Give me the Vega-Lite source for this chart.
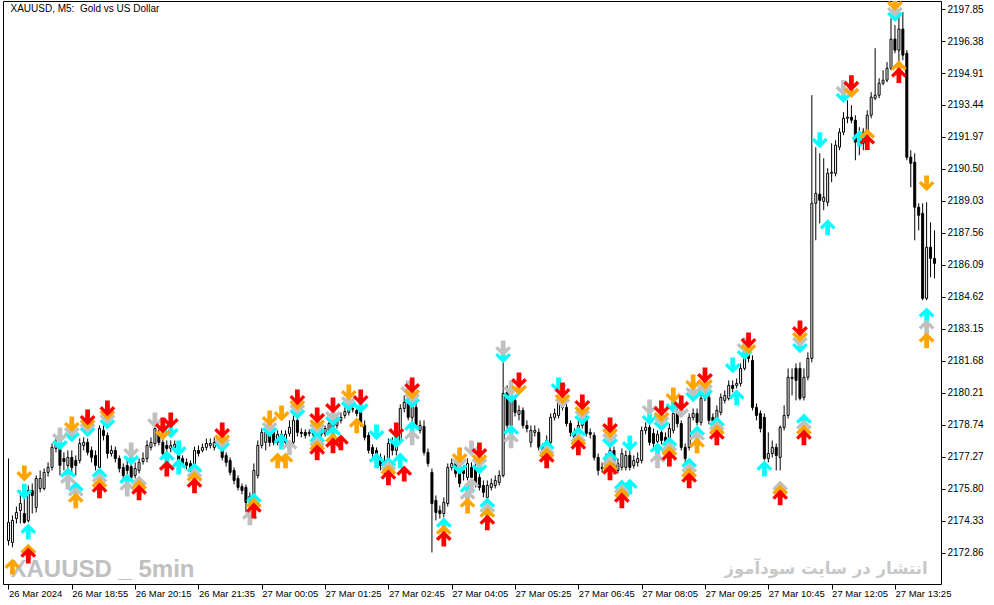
{
  "$schema": "https://vega.github.io/schema/vega-lite/v6.json",
  "width": 938,
  "height": 583,
  "autosize": "none",
  "padding": {"left": 3, "top": 1, "right": 53, "bottom": 21},
  "background": "white",
  "datasets": {
    "bars": [
      {"k":0,"o":2173.42,"h":2177.19,"l":2173.19,"c":2174.25},
      {"k":1,"o":2173.33,"h":2174.57,"l":2173.10,"c":2174.34},
      {"k":2,"o":2174.43,"h":2174.98,"l":2174.20,"c":2174.71},
      {"k":3,"o":2174.80,"h":2175.72,"l":2174.20,"c":2175.12},
      {"k":4,"o":2174.66,"h":2175.35,"l":2174.20,"c":2174.25},
      {"k":5,"o":2174.34,"h":2175.95,"l":2174.25,"c":2175.72},
      {"k":6,"o":2175.72,"h":2176.04,"l":2174.66,"c":2175.49},
      {"k":7,"o":2174.94,"h":2176.41,"l":2174.71,"c":2176.27},
      {"k":8,"o":2175.81,"h":2176.64,"l":2175.63,"c":2176.27},
      {"k":9,"o":2175.81,"h":2176.73,"l":2175.72,"c":2176.55},
      {"k":10,"o":2176.55,"h":2177.01,"l":2176.36,"c":2176.78},
      {"k":11,"o":2176.78,"h":2177.88,"l":2176.64,"c":2177.70},
      {"k":12,"o":2177.65,"h":2178.16,"l":2177.47,"c":2177.88},
      {"k":13,"o":2177.65,"h":2177.79,"l":2176.41,"c":2176.87},
      {"k":14,"o":2177.19,"h":2177.47,"l":2176.64,"c":2177.05},
      {"k":15,"o":2176.87,"h":2177.56,"l":2176.73,"c":2177.24},
      {"k":16,"o":2177.24,"h":2177.56,"l":2176.55,"c":2176.78},
      {"k":17,"o":2177.10,"h":2177.33,"l":2176.41,"c":2176.87},
      {"k":18,"o":2177.10,"h":2178.11,"l":2176.96,"c":2177.88},
      {"k":19,"o":2177.79,"h":2178.16,"l":2177.56,"c":2177.93},
      {"k":20,"o":2177.93,"h":2178.11,"l":2177.33,"c":2177.47},
      {"k":21,"o":2177.56,"h":2177.74,"l":2177.01,"c":2177.24},
      {"k":22,"o":2177.33,"h":2177.56,"l":2176.64,"c":2176.87},
      {"k":23,"o":2176.78,"h":2178.71,"l":2176.64,"c":2178.57},
      {"k":24,"o":2178.48,"h":2178.71,"l":2178.02,"c":2178.25},
      {"k":25,"o":2178.25,"h":2178.39,"l":2177.19,"c":2177.42},
      {"k":26,"o":2177.42,"h":2177.79,"l":2177.28,"c":2177.56},
      {"k":27,"o":2177.56,"h":2177.74,"l":2177.01,"c":2177.19},
      {"k":28,"o":2177.19,"h":2177.33,"l":2176.55,"c":2176.73},
      {"k":29,"o":2176.78,"h":2176.96,"l":2176.27,"c":2176.41},
      {"k":30,"o":2176.87,"h":2177.10,"l":2176.46,"c":2176.64},
      {"k":31,"o":2176.82,"h":2177.01,"l":2176.09,"c":2176.32},
      {"k":32,"o":2176.41,"h":2177.01,"l":2176.27,"c":2176.73},
      {"k":33,"o":2176.64,"h":2177.19,"l":2176.50,"c":2177.01},
      {"k":34,"o":2177.05,"h":2177.47,"l":2176.91,"c":2177.19},
      {"k":35,"o":2177.19,"h":2178.02,"l":2177.01,"c":2177.79},
      {"k":36,"o":2177.70,"h":2178.16,"l":2177.56,"c":2177.93},
      {"k":37,"o":2177.88,"h":2178.85,"l":2177.74,"c":2178.57},
      {"k":38,"o":2178.34,"h":2178.57,"l":2177.79,"c":2177.93},
      {"k":39,"o":2177.93,"h":2178.11,"l":2177.28,"c":2177.42},
      {"k":40,"o":2177.79,"h":2178.02,"l":2177.47,"c":2177.65},
      {"k":41,"o":2177.65,"h":2178.02,"l":2177.47,"c":2177.79},
      {"k":42,"o":2177.70,"h":2178.02,"l":2177.47,"c":2177.84},
      {"k":43,"o":2177.47,"h":2177.65,"l":2176.87,"c":2177.01},
      {"k":44,"o":2177.19,"h":2177.33,"l":2176.78,"c":2176.96},
      {"k":45,"o":2177.01,"h":2177.19,"l":2176.69,"c":2176.87},
      {"k":46,"o":2176.96,"h":2177.10,"l":2176.55,"c":2176.73},
      {"k":47,"o":2176.78,"h":2177.74,"l":2176.64,"c":2177.56},
      {"k":48,"o":2177.56,"h":2177.79,"l":2177.28,"c":2177.42},
      {"k":49,"o":2177.56,"h":2177.88,"l":2177.47,"c":2177.70},
      {"k":50,"o":2177.70,"h":2178.11,"l":2177.56,"c":2177.88},
      {"k":51,"o":2177.79,"h":2178.11,"l":2177.65,"c":2177.88},
      {"k":52,"o":2177.70,"h":2178.16,"l":2177.56,"c":2177.93},
      {"k":53,"o":2177.79,"h":2178.07,"l":2177.65,"c":2177.88},
      {"k":54,"o":2177.88,"h":2178.02,"l":2177.10,"c":2177.24},
      {"k":55,"o":2177.33,"h":2177.47,"l":2176.82,"c":2177.01},
      {"k":56,"o":2177.10,"h":2177.24,"l":2176.41,"c":2176.55},
      {"k":57,"o":2176.64,"h":2176.78,"l":2176.00,"c":2176.18},
      {"k":58,"o":2176.27,"h":2176.41,"l":2175.72,"c":2175.86},
      {"k":59,"o":2175.90,"h":2176.04,"l":2175.54,"c":2175.72},
      {"k":60,"o":2175.86,"h":2175.99,"l":2174.71,"c":2175.17},
      {"k":61,"o":2175.17,"h":2175.63,"l":2174.98,"c":2175.45},
      {"k":62,"o":2175.40,"h":2176.96,"l":2175.26,"c":2176.64},
      {"k":63,"o":2176.41,"h":2178.02,"l":2176.27,"c":2177.79},
      {"k":64,"o":2177.79,"h":2178.57,"l":2177.65,"c":2178.39},
      {"k":65,"o":2177.93,"h":2178.57,"l":2177.56,"c":2178.39},
      {"k":66,"o":2178.39,"h":2178.57,"l":2177.74,"c":2177.93},
      {"k":67,"o":2178.39,"h":2178.57,"l":2177.79,"c":2177.93},
      {"k":68,"o":2177.93,"h":2178.48,"l":2177.79,"c":2178.30},
      {"k":69,"o":2178.30,"h":2178.48,"l":2177.79,"c":2177.93},
      {"k":70,"o":2177.93,"h":2178.48,"l":2177.74,"c":2178.30},
      {"k":71,"o":2178.34,"h":2178.94,"l":2178.20,"c":2178.62},
      {"k":72,"o":2177.93,"h":2179.17,"l":2177.79,"c":2178.94},
      {"k":73,"o":2178.94,"h":2179.12,"l":2178.20,"c":2178.39},
      {"k":74,"o":2178.39,"h":2178.57,"l":2178.16,"c":2178.34},
      {"k":75,"o":2178.39,"h":2178.53,"l":2178.11,"c":2178.25},
      {"k":76,"o":2178.34,"h":2178.53,"l":2178.20,"c":2178.39},
      {"k":77,"o":2178.34,"h":2178.48,"l":2178.16,"c":2178.30},
      {"k":78,"o":2178.34,"h":2178.53,"l":2178.20,"c":2178.39},
      {"k":79,"o":2178.39,"h":2178.57,"l":2178.16,"c":2178.30},
      {"k":80,"o":2178.34,"h":2178.71,"l":2178.20,"c":2178.57},
      {"k":81,"o":2178.48,"h":2178.94,"l":2178.34,"c":2178.80},
      {"k":82,"o":2178.80,"h":2179.03,"l":2178.43,"c":2178.57},
      {"k":83,"o":2178.71,"h":2179.12,"l":2178.57,"c":2178.94},
      {"k":84,"o":2178.94,"h":2179.31,"l":2178.80,"c":2179.08},
      {"k":85,"o":2179.17,"h":2179.54,"l":2179.03,"c":2179.35},
      {"k":86,"o":2179.31,"h":2179.68,"l":2179.17,"c":2179.49},
      {"k":87,"o":2179.45,"h":2179.68,"l":2179.31,"c":2179.49},
      {"k":88,"o":2179.40,"h":2179.59,"l":2179.12,"c":2179.26},
      {"k":89,"o":2179.31,"h":2179.49,"l":2178.66,"c":2178.80},
      {"k":90,"o":2178.71,"h":2178.94,"l":2178.02,"c":2178.16},
      {"k":91,"o":2178.25,"h":2178.39,"l":2177.42,"c":2177.56},
      {"k":92,"o":2177.70,"h":2177.84,"l":2177.24,"c":2177.42},
      {"k":93,"o":2177.56,"h":2177.70,"l":2177.01,"c":2177.24},
      {"k":94,"o":2177.24,"h":2177.42,"l":2176.64,"c":2176.87},
      {"k":95,"o":2176.87,"h":2177.33,"l":2176.41,"c":2177.10},
      {"k":96,"o":2177.10,"h":2178.11,"l":2176.87,"c":2177.88},
      {"k":97,"o":2177.88,"h":2178.16,"l":2177.33,"c":2177.56},
      {"k":98,"o":2177.56,"h":2178.25,"l":2177.33,"c":2178.02},
      {"k":99,"o":2178.02,"h":2179.68,"l":2177.88,"c":2179.49},
      {"k":100,"o":2179.49,"h":2180.09,"l":2179.31,"c":2179.77},
      {"k":101,"o":2179.77,"h":2180.55,"l":2178.94,"c":2179.08},
      {"k":102,"o":2179.08,"h":2180.41,"l":2178.85,"c":2179.77},
      {"k":103,"o":2179.54,"h":2179.86,"l":2178.57,"c":2178.71},
      {"k":104,"o":2178.48,"h":2178.94,"l":2178.34,"c":2178.71},
      {"k":105,"o":2178.66,"h":2178.94,"l":2177.33,"c":2177.47},
      {"k":106,"o":2177.47,"h":2177.65,"l":2176.82,"c":2176.96},
      {"k":107,"o":2176.55,"h":2176.73,"l":2172.87,"c":2175.12},
      {"k":108,"o":2175.26,"h":2175.49,"l":2174.34,"c":2174.71},
      {"k":109,"o":2174.80,"h":2175.03,"l":2174.43,"c":2174.66},
      {"k":110,"o":2174.66,"h":2175.40,"l":2174.48,"c":2175.17},
      {"k":111,"o":2175.12,"h":2176.96,"l":2174.98,"c":2176.78},
      {"k":112,"o":2176.78,"h":2177.19,"l":2176.64,"c":2176.96},
      {"k":113,"o":2176.96,"h":2177.10,"l":2176.32,"c":2176.50},
      {"k":114,"o":2176.50,"h":2176.73,"l":2175.86,"c":2176.04},
      {"k":115,"o":2176.64,"h":2176.87,"l":2176.18,"c":2176.50},
      {"k":116,"o":2176.32,"h":2177.19,"l":2176.18,"c":2176.96},
      {"k":117,"o":2176.78,"h":2177.01,"l":2176.18,"c":2176.32},
      {"k":118,"o":2176.78,"h":2177.01,"l":2175.86,"c":2176.04},
      {"k":119,"o":2176.32,"h":2176.50,"l":2175.72,"c":2175.86},
      {"k":120,"o":2175.95,"h":2176.18,"l":2175.40,"c":2175.63},
      {"k":121,"o":2175.40,"h":2176.18,"l":2175.26,"c":2175.95},
      {"k":122,"o":2175.86,"h":2176.27,"l":2175.72,"c":2176.04},
      {"k":123,"o":2175.95,"h":2176.41,"l":2175.81,"c":2176.18},
      {"k":124,"o":2176.09,"h":2176.64,"l":2175.95,"c":2176.41},
      {"k":125,"o":2176.41,"h":2181.70,"l":2176.32,"c":2180.18},
      {"k":126,"o":2180.23,"h":2180.55,"l":2178.57,"c":2178.71},
      {"k":127,"o":2178.71,"h":2180.09,"l":2178.57,"c":2179.86},
      {"k":128,"o":2179.86,"h":2180.09,"l":2179.12,"c":2179.31},
      {"k":129,"o":2179.22,"h":2179.63,"l":2178.94,"c":2179.40},
      {"k":130,"o":2179.40,"h":2179.54,"l":2178.57,"c":2178.71},
      {"k":131,"o":2178.71,"h":2178.94,"l":2178.39,"c":2178.57},
      {"k":132,"o":2177.93,"h":2178.71,"l":2177.70,"c":2178.48},
      {"k":133,"o":2178.39,"h":2178.71,"l":2178.20,"c":2178.48},
      {"k":134,"o":2178.39,"h":2178.57,"l":2177.56,"c":2177.70},
      {"k":135,"o":2177.70,"h":2177.88,"l":2177.24,"c":2177.47},
      {"k":136,"o":2177.56,"h":2178.25,"l":2177.42,"c":2178.02},
      {"k":137,"o":2177.93,"h":2179.26,"l":2177.79,"c":2179.08},
      {"k":138,"o":2179.08,"h":2179.49,"l":2178.94,"c":2179.26},
      {"k":139,"o":2179.17,"h":2180.09,"l":2179.03,"c":2179.86},
      {"k":140,"o":2180.00,"h":2180.32,"l":2179.40,"c":2179.54},
      {"k":141,"o":2179.54,"h":2179.72,"l":2178.66,"c":2178.80},
      {"k":142,"o":2178.80,"h":2178.94,"l":2178.20,"c":2178.39},
      {"k":143,"o":2178.39,"h":2178.57,"l":2177.93,"c":2178.11},
      {"k":144,"o":2178.34,"h":2178.94,"l":2178.16,"c":2178.71},
      {"k":145,"o":2178.71,"h":2179.17,"l":2178.57,"c":2178.94},
      {"k":146,"o":2178.94,"h":2179.17,"l":2178.20,"c":2178.34},
      {"k":147,"o":2178.39,"h":2178.57,"l":2178.11,"c":2178.30},
      {"k":148,"o":2178.25,"h":2178.39,"l":2177.10,"c":2177.24},
      {"k":149,"o":2177.24,"h":2177.42,"l":2176.41,"c":2176.64},
      {"k":150,"o":2176.78,"h":2177.01,"l":2176.55,"c":2176.73},
      {"k":151,"o":2176.73,"h":2177.42,"l":2176.55,"c":2177.19},
      {"k":152,"o":2177.10,"h":2177.79,"l":2176.96,"c":2177.56},
      {"k":153,"o":2177.56,"h":2177.74,"l":2176.46,"c":2176.64},
      {"k":154,"o":2176.64,"h":2177.19,"l":2176.50,"c":2176.96},
      {"k":155,"o":2176.78,"h":2177.65,"l":2176.64,"c":2177.42},
      {"k":156,"o":2176.78,"h":2177.56,"l":2176.64,"c":2177.33},
      {"k":157,"o":2177.33,"h":2177.56,"l":2176.64,"c":2176.78},
      {"k":158,"o":2176.87,"h":2177.33,"l":2176.73,"c":2177.10},
      {"k":159,"o":2177.01,"h":2177.47,"l":2176.82,"c":2177.19},
      {"k":160,"o":2177.10,"h":2178.66,"l":2176.96,"c":2178.48},
      {"k":161,"o":2178.48,"h":2178.85,"l":2178.30,"c":2178.62},
      {"k":162,"o":2178.62,"h":2178.80,"l":2177.79,"c":2177.93},
      {"k":163,"o":2178.34,"h":2178.57,"l":2177.70,"c":2177.88},
      {"k":164,"o":2177.97,"h":2178.48,"l":2177.79,"c":2178.30},
      {"k":165,"o":2178.39,"h":2178.57,"l":2177.84,"c":2178.02},
      {"k":166,"o":2178.16,"h":2178.39,"l":2177.79,"c":2177.97},
      {"k":167,"o":2178.02,"h":2178.80,"l":2177.88,"c":2178.57},
      {"k":168,"o":2178.48,"h":2179.49,"l":2178.34,"c":2179.26},
      {"k":169,"o":2179.26,"h":2179.49,"l":2178.62,"c":2178.80},
      {"k":170,"o":2178.80,"h":2178.94,"l":2177.56,"c":2177.70},
      {"k":171,"o":2177.70,"h":2177.88,"l":2177.01,"c":2177.19},
      {"k":172,"o":2177.70,"h":2179.26,"l":2177.56,"c":2179.08},
      {"k":173,"o":2179.08,"h":2179.49,"l":2178.94,"c":2179.26},
      {"k":174,"o":2179.26,"h":2179.49,"l":2178.71,"c":2178.85},
      {"k":175,"o":2178.85,"h":2180.18,"l":2178.71,"c":2179.95},
      {"k":176,"o":2179.95,"h":2180.23,"l":2179.82,"c":2180.00},
      {"k":177,"o":2180.00,"h":2180.18,"l":2178.76,"c":2178.94},
      {"k":178,"o":2179.08,"h":2179.26,"l":2178.71,"c":2178.90},
      {"k":179,"o":2178.94,"h":2179.63,"l":2178.80,"c":2179.40},
      {"k":180,"o":2179.31,"h":2180.18,"l":2179.17,"c":2180.00},
      {"k":181,"o":2179.86,"h":2180.32,"l":2179.72,"c":2180.09},
      {"k":182,"o":2179.95,"h":2180.78,"l":2179.86,"c":2180.55},
      {"k":183,"o":2180.55,"h":2180.78,"l":2180.23,"c":2180.41},
      {"k":184,"o":2180.55,"h":2180.87,"l":2180.41,"c":2180.64},
      {"k":185,"o":2180.64,"h":2181.56,"l":2180.50,"c":2181.33},
      {"k":186,"o":2181.33,"h":2182.25,"l":2181.24,"c":2182.07},
      {"k":187,"o":2182.07,"h":2182.39,"l":2181.61,"c":2181.79},
      {"k":188,"o":2181.70,"h":2181.93,"l":2179.40,"c":2179.54},
      {"k":189,"o":2179.54,"h":2179.72,"l":2178.94,"c":2179.17},
      {"k":190,"o":2179.26,"h":2179.40,"l":2178.39,"c":2178.57},
      {"k":191,"o":2179.08,"h":2179.26,"l":2177.10,"c":2177.19},
      {"k":192,"o":2177.19,"h":2178.39,"l":2177.01,"c":2177.42},
      {"k":193,"o":2177.42,"h":2178.02,"l":2177.24,"c":2177.70},
      {"k":194,"o":2177.70,"h":2177.88,"l":2176.64,"c":2177.33},
      {"k":195,"o":2177.24,"h":2178.71,"l":2176.64,"c":2178.62},
      {"k":196,"o":2178.62,"h":2179.63,"l":2178.48,"c":2179.17},
      {"k":197,"o":2179.17,"h":2181.33,"l":2179.03,"c":2180.92},
      {"k":198,"o":2180.87,"h":2181.33,"l":2180.09,"c":2180.92},
      {"k":199,"o":2181.33,"h":2181.56,"l":2179.86,"c":2180.78},
      {"k":200,"o":2181.33,"h":2181.61,"l":2179.86,"c":2179.95},
      {"k":201,"o":2180.00,"h":2181.33,"l":2179.86,"c":2180.92},
      {"k":202,"o":2180.92,"h":2182.07,"l":2180.78,"c":2181.79},
      {"k":203,"o":2181.79,"h":2193.89,"l":2181.61,"c":2188.92},
      {"k":204,"o":2188.92,"h":2191.50,"l":2187.22,"c":2189.38},
      {"k":205,"o":2189.34,"h":2191.22,"l":2188.00,"c":2189.06},
      {"k":206,"o":2189.01,"h":2190.99,"l":2188.60,"c":2189.20},
      {"k":207,"o":2188.97,"h":2190.53,"l":2188.78,"c":2190.30},
      {"k":208,"o":2190.30,"h":2191.68,"l":2189.89,"c":2190.35},
      {"k":209,"o":2190.30,"h":2191.82,"l":2190.16,"c":2191.59},
      {"k":210,"o":2191.50,"h":2192.37,"l":2191.36,"c":2192.19},
      {"k":211,"o":2192.19,"h":2193.11,"l":2192.05,"c":2192.83},
      {"k":212,"o":2192.83,"h":2193.66,"l":2192.60,"c":2192.88},
      {"k":213,"o":2192.88,"h":2193.43,"l":2192.60,"c":2192.74},
      {"k":214,"o":2192.74,"h":2192.97,"l":2190.90,"c":2191.73},
      {"k":215,"o":2191.59,"h":2192.42,"l":2191.13,"c":2191.82},
      {"k":216,"o":2191.68,"h":2192.37,"l":2191.36,"c":2192.19},
      {"k":217,"o":2192.05,"h":2193.20,"l":2191.91,"c":2192.97},
      {"k":218,"o":2192.97,"h":2194.03,"l":2192.83,"c":2193.80},
      {"k":219,"o":2193.75,"h":2196.05,"l":2193.66,"c":2193.89},
      {"k":220,"o":2193.89,"h":2194.67,"l":2193.75,"c":2194.44},
      {"k":221,"o":2194.44,"h":2195.04,"l":2194.35,"c":2194.58},
      {"k":222,"o":2194.58,"h":2195.41,"l":2194.49,"c":2195.13},
      {"k":223,"o":2195.13,"h":2197.43,"l":2195.04,"c":2196.47},
      {"k":224,"o":2196.47,"h":2197.11,"l":2195.82,"c":2195.96},
      {"k":225,"o":2195.96,"h":2197.66,"l":2195.27,"c":2196.93},
      {"k":226,"o":2196.93,"h":2197.71,"l":2195.50,"c":2195.73},
      {"k":227,"o":2195.82,"h":2195.96,"l":2190.90,"c":2191.04},
      {"k":228,"o":2191.04,"h":2191.36,"l":2189.66,"c":2190.76},
      {"k":229,"o":2190.81,"h":2191.22,"l":2187.22,"c":2188.74},
      {"k":230,"o":2188.74,"h":2188.92,"l":2187.68,"c":2188.37},
      {"k":231,"o":2188.46,"h":2188.92,"l":2184.46,"c":2184.55},
      {"k":232,"o":2184.55,"h":2188.97,"l":2184.46,"c":2186.90},
      {"k":233,"o":2186.90,"h":2188.05,"l":2185.52,"c":2186.39},
      {"k":234,"o":2186.39,"h":2187.68,"l":2185.47,"c":2186.16}
    ],
    "arrows": [
      {"k":4,"p":2175.67,"c":"C","d":"d"},
      {"k":13,"p":2177.93,"c":"C","d":"d"},
      {"k":16,"p":2178.30,"c":"C","d":"d"},
      {"k":20,"p":2178.53,"c":"C","d":"d"},
      {"k":25,"p":2178.89,"c":"C","d":"d"},
      {"k":31,"p":2177.24,"c":"C","d":"d"},
      {"k":41,"p":2178.48,"c":"C","d":"d"},
      {"k":43,"p":2177.65,"c":"C","d":"d"},
      {"k":54,"p":2177.84,"c":"C","d":"d"},
      {"k":66,"p":2178.53,"c":"C","d":"d"},
      {"k":73,"p":2179.35,"c":"C","d":"d"},
      {"k":78,"p":2178.48,"c":"C","d":"d"},
      {"k":82,"p":2179.03,"c":"C","d":"d"},
      {"k":86,"p":2179.72,"c":"C","d":"d"},
      {"k":89,"p":2179.63,"c":"C","d":"d"},
      {"k":93,"p":2178.39,"c":"C","d":"d"},
      {"k":98,"p":2178.02,"c":"C","d":"d"},
      {"k":102,"p":2179.86,"c":"C","d":"d"},
      {"k":114,"p":2176.82,"c":"C","d":"d"},
      {"k":119,"p":2176.82,"c":"C","d":"d"},
      {"k":125,"p":2181.93,"c":"C","d":"d"},
      {"k":127,"p":2180.09,"c":"C","d":"d"},
      {"k":139,"p":2180.55,"c":"C","d":"d"},
      {"k":145,"p":2179.08,"c":"C","d":"d"},
      {"k":152,"p":2178.02,"c":"C","d":"d"},
      {"k":157,"p":2177.88,"c":"C","d":"d"},
      {"k":162,"p":2179.08,"c":"C","d":"d"},
      {"k":165,"p":2178.80,"c":"C","d":"d"},
      {"k":168,"p":2179.63,"c":"C","d":"d"},
      {"k":173,"p":2180.14,"c":"C","d":"d"},
      {"k":176,"p":2180.27,"c":"C","d":"d"},
      {"k":183,"p":2181.47,"c":"C","d":"d"},
      {"k":186,"p":2182.07,"c":"C","d":"d"},
      {"k":200,"p":2182.39,"c":"C","d":"d"},
      {"k":205,"p":2191.82,"c":"C","d":"d"},
      {"k":211,"p":2193.89,"c":"C","d":"d"},
      {"k":224,"p":2197.62,"c":"C","d":"d"},
      {"k":5,"p":2173.83,"c":"C","d":"u"},
      {"k":15,"p":2176.41,"c":"C","d":"u"},
      {"k":17,"p":2175.77,"c":"C","d":"u"},
      {"k":23,"p":2176.41,"c":"C","d":"u"},
      {"k":30,"p":2176.13,"c":"C","d":"u"},
      {"k":40,"p":2177.19,"c":"C","d":"u"},
      {"k":43,"p":2176.82,"c":"C","d":"u"},
      {"k":47,"p":2176.64,"c":"C","d":"u"},
      {"k":62,"p":2175.26,"c":"C","d":"u"},
      {"k":69,"p":2177.97,"c":"C","d":"u"},
      {"k":78,"p":2178.02,"c":"C","d":"u"},
      {"k":82,"p":2178.34,"c":"C","d":"u"},
      {"k":93,"p":2177.10,"c":"C","d":"u"},
      {"k":96,"p":2176.91,"c":"C","d":"u"},
      {"k":99,"p":2177.10,"c":"C","d":"u"},
      {"k":102,"p":2178.57,"c":"C","d":"u"},
      {"k":110,"p":2174.11,"c":"C","d":"u"},
      {"k":116,"p":2175.72,"c":"C","d":"u"},
      {"k":121,"p":2175.03,"c":"C","d":"u"},
      {"k":127,"p":2178.39,"c":"C","d":"u"},
      {"k":136,"p":2177.70,"c":"C","d":"u"},
      {"k":144,"p":2178.30,"c":"C","d":"u"},
      {"k":152,"p":2177.19,"c":"C","d":"u"},
      {"k":155,"p":2175.86,"c":"C","d":"u"},
      {"k":157,"p":2175.90,"c":"C","d":"u"},
      {"k":164,"p":2177.56,"c":"C","d":"u"},
      {"k":167,"p":2177.84,"c":"C","d":"u"},
      {"k":172,"p":2176.87,"c":"C","d":"u"},
      {"k":174,"p":2178.34,"c":"C","d":"u"},
      {"k":179,"p":2178.76,"c":"C","d":"u"},
      {"k":184,"p":2180.00,"c":"C","d":"u"},
      {"k":191,"p":2176.73,"c":"C","d":"u"},
      {"k":201,"p":2178.89,"c":"C","d":"u"},
      {"k":207,"p":2187.82,"c":"C","d":"u"},
      {"k":215,"p":2191.91,"c":"C","d":"u"},
      {"k":232,"p":2183.77,"c":"C","d":"u"},
      {"k":13,"p":2178.25,"c":"S","d":"d"},
      {"k":16,"p":2178.53,"c":"S","d":"d"},
      {"k":20,"p":2178.71,"c":"S","d":"d"},
      {"k":25,"p":2179.12,"c":"S","d":"d"},
      {"k":31,"p":2177.56,"c":"S","d":"d"},
      {"k":37,"p":2178.94,"c":"S","d":"d"},
      {"k":54,"p":2178.02,"c":"S","d":"d"},
      {"k":66,"p":2178.76,"c":"S","d":"d"},
      {"k":73,"p":2179.58,"c":"S","d":"d"},
      {"k":78,"p":2178.71,"c":"S","d":"d"},
      {"k":82,"p":2179.26,"c":"S","d":"d"},
      {"k":86,"p":2179.95,"c":"S","d":"d"},
      {"k":101,"p":2180.41,"c":"S","d":"d"},
      {"k":102,"p":2180.09,"c":"S","d":"d"},
      {"k":114,"p":2177.10,"c":"S","d":"d"},
      {"k":117,"p":2177.65,"c":"S","d":"d"},
      {"k":119,"p":2177.10,"c":"S","d":"d"},
      {"k":125,"p":2182.25,"c":"S","d":"d"},
      {"k":127,"p":2180.41,"c":"S","d":"d"},
      {"k":140,"p":2179.86,"c":"S","d":"d"},
      {"k":145,"p":2179.31,"c":"S","d":"d"},
      {"k":152,"p":2178.25,"c":"S","d":"d"},
      {"k":162,"p":2179.54,"c":"S","d":"d"},
      {"k":165,"p":2179.03,"c":"S","d":"d"},
      {"k":170,"p":2179.40,"c":"S","d":"d"},
      {"k":173,"p":2180.37,"c":"S","d":"d"},
      {"k":176,"p":2180.50,"c":"S","d":"d"},
      {"k":186,"p":2182.39,"c":"S","d":"d"},
      {"k":200,"p":2182.67,"c":"S","d":"d"},
      {"k":211,"p":2194.21,"c":"S","d":"d"},
      {"k":224,"p":2197.85,"c":"S","d":"d"},
      {"k":15,"p":2176.13,"c":"S","d":"u"},
      {"k":17,"p":2175.54,"c":"S","d":"u"},
      {"k":23,"p":2176.18,"c":"S","d":"u"},
      {"k":30,"p":2175.81,"c":"S","d":"u"},
      {"k":33,"p":2176.04,"c":"S","d":"u"},
      {"k":47,"p":2176.41,"c":"S","d":"u"},
      {"k":61,"p":2174.48,"c":"S","d":"u"},
      {"k":71,"p":2177.70,"c":"S","d":"u"},
      {"k":78,"p":2177.84,"c":"S","d":"u"},
      {"k":96,"p":2176.73,"c":"S","d":"u"},
      {"k":102,"p":2178.16,"c":"S","d":"u"},
      {"k":116,"p":2175.40,"c":"S","d":"u"},
      {"k":117,"p":2175.95,"c":"S","d":"u"},
      {"k":121,"p":2174.80,"c":"S","d":"u"},
      {"k":127,"p":2178.02,"c":"S","d":"u"},
      {"k":136,"p":2177.47,"c":"S","d":"u"},
      {"k":144,"p":2178.02,"c":"S","d":"u"},
      {"k":152,"p":2176.96,"c":"S","d":"u"},
      {"k":155,"p":2175.67,"c":"S","d":"u"},
      {"k":164,"p":2177.10,"c":"S","d":"u"},
      {"k":167,"p":2177.61,"c":"S","d":"u"},
      {"k":172,"p":2176.64,"c":"S","d":"u"},
      {"k":174,"p":2178.11,"c":"S","d":"u"},
      {"k":179,"p":2178.57,"c":"S","d":"u"},
      {"k":195,"p":2175.81,"c":"S","d":"u"},
      {"k":201,"p":2178.62,"c":"S","d":"u"},
      {"k":232,"p":2183.22,"c":"S","d":"u"},
      {"k":4,"p":2176.50,"c":"O","d":"d"},
      {"k":16,"p":2178.76,"c":"O","d":"d"},
      {"k":20,"p":2178.89,"c":"O","d":"d"},
      {"k":25,"p":2179.31,"c":"O","d":"d"},
      {"k":39,"p":2178.39,"c":"O","d":"d"},
      {"k":54,"p":2178.20,"c":"O","d":"d"},
      {"k":66,"p":2179.03,"c":"O","d":"d"},
      {"k":69,"p":2179.26,"c":"O","d":"d"},
      {"k":73,"p":2179.77,"c":"O","d":"d"},
      {"k":78,"p":2178.89,"c":"O","d":"d"},
      {"k":86,"p":2180.23,"c":"O","d":"d"},
      {"k":102,"p":2180.27,"c":"O","d":"d"},
      {"k":114,"p":2177.33,"c":"O","d":"d"},
      {"k":119,"p":2177.28,"c":"O","d":"d"},
      {"k":129,"p":2180.46,"c":"O","d":"d"},
      {"k":140,"p":2180.05,"c":"O","d":"d"},
      {"k":145,"p":2179.49,"c":"O","d":"d"},
      {"k":152,"p":2178.48,"c":"O","d":"d"},
      {"k":165,"p":2179.22,"c":"O","d":"d"},
      {"k":168,"p":2180.09,"c":"O","d":"d"},
      {"k":173,"p":2180.69,"c":"O","d":"d"},
      {"k":176,"p":2180.73,"c":"O","d":"d"},
      {"k":187,"p":2182.34,"c":"O","d":"d"},
      {"k":200,"p":2182.90,"c":"O","d":"d"},
      {"k":213,"p":2194.12,"c":"O","d":"d"},
      {"k":224,"p":2198.12,"c":"O","d":"d"},
      {"k":232,"p":2189.84,"c":"O","d":"d"},
      {"k":1,"p":2172.22,"c":"O","d":"u"},
      {"k":5,"p":2172.91,"c":"O","d":"u"},
      {"k":17,"p":2175.26,"c":"O","d":"u"},
      {"k":23,"p":2175.95,"c":"O","d":"u"},
      {"k":33,"p":2175.86,"c":"O","d":"u"},
      {"k":47,"p":2176.23,"c":"O","d":"u"},
      {"k":62,"p":2175.03,"c":"O","d":"u"},
      {"k":68,"p":2177.10,"c":"O","d":"u"},
      {"k":70,"p":2177.10,"c":"O","d":"u"},
      {"k":78,"p":2177.65,"c":"O","d":"u"},
      {"k":82,"p":2178.02,"c":"O","d":"u"},
      {"k":88,"p":2178.71,"c":"O","d":"u"},
      {"k":96,"p":2176.55,"c":"O","d":"u"},
      {"k":110,"p":2173.79,"c":"O","d":"u"},
      {"k":116,"p":2175.03,"c":"O","d":"u"},
      {"k":121,"p":2174.57,"c":"O","d":"u"},
      {"k":136,"p":2177.33,"c":"O","d":"u"},
      {"k":144,"p":2177.88,"c":"O","d":"u"},
      {"k":152,"p":2176.73,"c":"O","d":"u"},
      {"k":155,"p":2175.49,"c":"O","d":"u"},
      {"k":167,"p":2177.42,"c":"O","d":"u"},
      {"k":172,"p":2176.41,"c":"O","d":"u"},
      {"k":174,"p":2177.79,"c":"O","d":"u"},
      {"k":179,"p":2178.39,"c":"O","d":"u"},
      {"k":195,"p":2175.63,"c":"O","d":"u"},
      {"k":201,"p":2178.39,"c":"O","d":"u"},
      {"k":217,"p":2192.00,"c":"O","d":"u"},
      {"k":225,"p":2195.13,"c":"O","d":"u"},
      {"k":232,"p":2182.62,"c":"O","d":"u"},
      {"k":20,"p":2179.08,"c":"R","d":"d"},
      {"k":25,"p":2179.49,"c":"R","d":"d"},
      {"k":39,"p":2178.71,"c":"R","d":"d"},
      {"k":41,"p":2178.94,"c":"R","d":"d"},
      {"k":54,"p":2178.48,"c":"R","d":"d"},
      {"k":73,"p":2180.00,"c":"R","d":"d"},
      {"k":78,"p":2179.17,"c":"R","d":"d"},
      {"k":82,"p":2179.63,"c":"R","d":"d"},
      {"k":89,"p":2180.00,"c":"R","d":"d"},
      {"k":98,"p":2178.48,"c":"R","d":"d"},
      {"k":102,"p":2180.55,"c":"R","d":"d"},
      {"k":119,"p":2177.56,"c":"R","d":"d"},
      {"k":129,"p":2180.78,"c":"R","d":"d"},
      {"k":140,"p":2180.32,"c":"R","d":"d"},
      {"k":145,"p":2179.77,"c":"R","d":"d"},
      {"k":152,"p":2178.71,"c":"R","d":"d"},
      {"k":165,"p":2179.49,"c":"R","d":"d"},
      {"k":170,"p":2179.72,"c":"R","d":"d"},
      {"k":176,"p":2181.01,"c":"R","d":"d"},
      {"k":187,"p":2182.62,"c":"R","d":"d"},
      {"k":200,"p":2183.17,"c":"R","d":"d"},
      {"k":213,"p":2194.44,"c":"R","d":"d"},
      {"k":5,"p":2172.73,"c":"R","d":"u"},
      {"k":23,"p":2175.72,"c":"R","d":"u"},
      {"k":33,"p":2175.63,"c":"R","d":"u"},
      {"k":40,"p":2176.73,"c":"R","d":"u"},
      {"k":47,"p":2175.95,"c":"R","d":"u"},
      {"k":62,"p":2174.80,"c":"R","d":"u"},
      {"k":78,"p":2177.47,"c":"R","d":"u"},
      {"k":82,"p":2177.79,"c":"R","d":"u"},
      {"k":84,"p":2177.93,"c":"R","d":"u"},
      {"k":96,"p":2176.32,"c":"R","d":"u"},
      {"k":100,"p":2176.50,"c":"R","d":"u"},
      {"k":110,"p":2173.51,"c":"R","d":"u"},
      {"k":121,"p":2174.25,"c":"R","d":"u"},
      {"k":136,"p":2177.10,"c":"R","d":"u"},
      {"k":144,"p":2177.70,"c":"R","d":"u"},
      {"k":152,"p":2176.55,"c":"R","d":"u"},
      {"k":155,"p":2175.26,"c":"R","d":"u"},
      {"k":167,"p":2177.19,"c":"R","d":"u"},
      {"k":172,"p":2176.18,"c":"R","d":"u"},
      {"k":179,"p":2178.16,"c":"R","d":"u"},
      {"k":195,"p":2175.40,"c":"R","d":"u"},
      {"k":201,"p":2178.16,"c":"R","d":"u"},
      {"k":217,"p":2191.73,"c":"R","d":"u"},
      {"k":225,"p":2194.81,"c":"R","d":"u"}
    ]
  },
  "encoding": {
    "x": {
      "field": "k", "type": "quantitative",
      "scale": {"domain": [-0.125, 234.375], "nice": false, "zero": false},
      "axis": {
        "title": null,
        "values": [0, 16, 32, 48, 64, 80, 96, 112, 128, 144, 160, 176, 192, 208, 224],
        "labelExpr": "['26 Mar 2024','26 Mar 18:55','26 Mar 20:15','26 Mar 21:35','27 Mar 00:05','27 Mar 01:25','27 Mar 02:45','27 Mar 04:05','27 Mar 05:25','27 Mar 06:45','27 Mar 08:05','27 Mar 09:25','27 Mar 10:45','27 Mar 12:05','27 Mar 13:25'][round(datum.value / 16)]"
      }
    }
  },
  "layer": [
    {
      "data": {"values": [{"k": 0.5, "p": 2171.72, "t": "XAUUSD _ 5min"}]},
      "mark": {"type": "text", "align": "left", "baseline": "alphabetic", "font": "Liberation Sans", "fontSize": 24, "fontWeight": "bold", "color": "#c0c0c0"},
      "encoding": {
        "y": {
          "field": "p", "type": "quantitative",
          "scale": {"domain": [2171.42, 2198.22], "nice": false, "zero": false},
          "axis": {"orient": "right", "title": null, "format": ".2f", "values": [2172.86, 2174.33, 2175.80, 2177.27, 2178.74, 2180.21, 2181.68, 2183.15, 2184.62, 2186.09, 2187.56, 2189.03, 2190.50, 2191.97, 2193.44, 2194.91, 2196.38, 2197.85]}
        },
        "text": {"field": "t"}
      }
    },
    {
      "data": {"values": [{"k": 232.25, "p": 2171.86, "t": "انتشار در سایت سودآموز"}]},
      "mark": {"type": "text", "align": "right", "baseline": "alphabetic", "font": "DejaVu Sans", "fontSize": 16.5, "fontWeight": "bold", "color": "#c8c8c8"},
      "encoding": {
        "y": {
          "field": "p", "type": "quantitative",
          "scale": {"domain": [2171.42, 2198.22], "nice": false, "zero": false},
          "axis": {"orient": "right", "title": null, "format": ".2f", "values": [2172.86, 2174.33, 2175.80, 2177.27, 2178.74, 2180.21, 2181.68, 2183.15, 2184.62, 2186.09, 2187.56, 2189.03, 2190.50, 2191.97, 2193.44, 2194.91, 2196.38, 2197.85]}
        },
        "text": {"field": "t"}
      }
    },
    {
      "data": {"name": "bars"},
      "mark": {"type": "rule", "color": "black", "strokeWidth": 1},
      "encoding": {
        "y": {
          "field": "l", "type": "quantitative",
          "scale": {"domain": [2171.42, 2198.22], "nice": false, "zero": false},
          "axis": {"orient": "right", "title": null, "format": ".2f", "values": [2172.86, 2174.33, 2175.80, 2177.27, 2178.74, 2180.21, 2181.68, 2183.15, 2184.62, 2186.09, 2187.56, 2189.03, 2190.50, 2191.97, 2193.44, 2194.91, 2196.38, 2197.85]}
        },
        "y2": {"field": "h"}
      }
    },
    {
      "data": {"name": "bars"},
      "mark": {"type": "bar", "width": 2, "stroke": "black", "strokeWidth": 1},
      "encoding": {
        "y": {
          "field": "o", "type": "quantitative",
          "scale": {"domain": [2171.42, 2198.22], "nice": false, "zero": false},
          "axis": {"orient": "right", "title": null, "format": ".2f", "values": [2172.86, 2174.33, 2175.80, 2177.27, 2178.74, 2180.21, 2181.68, 2183.15, 2184.62, 2186.09, 2187.56, 2189.03, 2190.50, 2191.97, 2193.44, 2194.91, 2196.38, 2197.85]}
        },
        "y2": {"field": "c"},
        "fill": {"condition": {"test": "datum.c < datum.o", "value": "black"}, "value": "white"}
      }
    },
    {
      "data": {"name": "arrows"},
      "mark": {"type": "point", "filled": true, "size": 250, "opacity": 1, "strokeWidth": 0, "clip": true},
      "encoding": {
        "y": {
          "field": "p", "type": "quantitative",
          "scale": {"domain": [2171.42, 2198.22], "nice": false, "zero": false},
          "axis": {"orient": "right", "title": null, "format": ".2f", "values": [2172.86, 2174.33, 2175.80, 2177.27, 2178.74, 2180.21, 2181.68, 2183.15, 2184.62, 2186.09, 2187.56, 2189.03, 2190.50, 2191.97, 2193.44, 2194.91, 2196.38, 2197.85]}
        },
        "shape": {
          "field": "d", "type": "nominal", "legend": null,
          "scale": {"domain": ["d", "u"], "range": ["M-0.3,-1L0.3,-1L0.3,0.1L0.7,-0.3L1,0L0,1L-1,0L-0.7,-0.3L-0.3,0.1Z", "M-0.3,1L0.3,1L0.3,-0.1L0.7,0.3L1,0L0,-1L-1,0L-0.7,0.3L-0.3,-0.1Z"]}
        },
        "color": {
          "field": "c", "type": "nominal", "legend": null,
          "scale": {"domain": ["C", "S", "O", "R"], "range": ["#00ffff", "#c0c0c0", "#ffa500", "#ff0000"]}
        }
      }
    },
    {
      "data": {"values": [{"k": 0.5, "p": 2197.72, "t": "XAUUSD, M5:\u00a0 Gold vs US Dollar"}]},
      "mark": {"type": "text", "align": "left", "baseline": "alphabetic", "font": "Liberation Sans", "fontSize": 10, "color": "black"},
      "encoding": {
        "y": {
          "field": "p", "type": "quantitative",
          "scale": {"domain": [2171.42, 2198.22], "nice": false, "zero": false},
          "axis": {"orient": "right", "title": null, "format": ".2f", "values": [2172.86, 2174.33, 2175.80, 2177.27, 2178.74, 2180.21, 2181.68, 2183.15, 2184.62, 2186.09, 2187.56, 2189.03, 2190.50, 2191.97, 2193.44, 2194.91, 2196.38, 2197.85]}
        },
        "text": {"field": "t"}
      }
    }
  ],
  "config": {
    "view": {"stroke": "black", "strokeWidth": 1},
    "axis": {"grid": false, "domain": false, "tickColor": "black", "labelColor": "black", "labelFont": "Liberation Sans", "labelFontSize": 10, "labelOverlap": false, "labelFlush": false, "labelBound": false},
    "axisX": {"tickSize": 5, "labelAlign": "left", "labelBaseline": "middle", "labelPadding": 4, "labelDx": 1, "labelFontSize": 9.5},
    "axisY": {"tickSize": 4, "labelAlign": "left", "labelBaseline": "middle", "labelPadding": 2}
  }
}
